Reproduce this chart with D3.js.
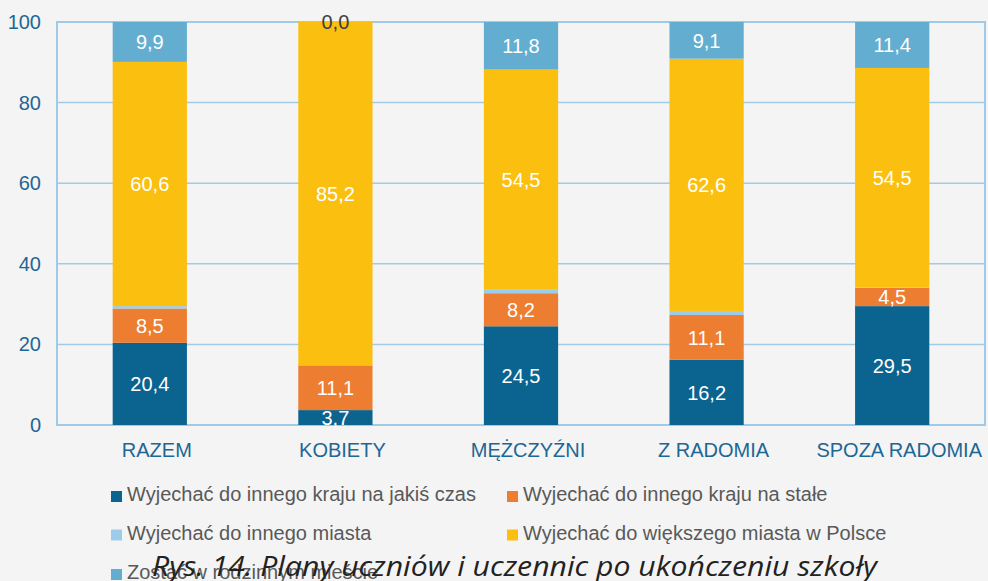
<!DOCTYPE html>
<html>
<head>
<meta charset="utf-8">
<script src="https://cdn.jsdelivr.net/npm/d3@7"></script>
<style>
  html, body { margin: 0; padding: 0; background: #f4f4f4; }
  svg { display: block; }
</style>
</head>
<body>
<div id="divChart"></div>
<script>
// dane (Rys. 14)
var categories = ['RAZEM', 'KOBIETY', 'MĘŻCZYŹNI', 'Z RADOMIA', 'SPOZA RADOMIA'];
var seriesNames = [
  'Wyjechać do innego kraju na jakiś czas',
  'Wyjechać do innego kraju na stałe',
  'Wyjechać do innego miasta',
  'Wyjechać do większego miasta w Polsce',
  'Zostać w rodzinnym mieście'
];
var krajCzas   = [20.4, 3.7, 24.5, 16.2, 29.5];
var krajStale  = [8.5, 11.1, 8.2, 11.1, 4.5];
var inneMiasto = [0.6, 0.0, 1.0, 1.0, 0.1];
var wiekszeMiasto = [60.6, 85.2, 54.5, 62.6, 54.5];
var zostac     = [9.9, 0.0, 11.8, 9.1, 11.4];
var yTicks = [0, 20, 40, 60, 80, 100];

var seriesColors = ['#0b6390', '#ed7d31', '#9dcbea', '#fbbf10', '#63aed0'];
var showLabels = [true, true, false, true, true];

(function(){
  var W = 988, H = 581;
  var margin = {top: 22, right: 3, bottom: 156, left: 57};
  var width = W - margin.left - margin.right,
      height = H - margin.top - margin.bottom;

  var svg = d3.select('#divChart').append('svg')
    .attr('width', W).attr('height', H)
    .style('font-family', 'Arial, "Liberation Sans", sans-serif');

  svg.append('rect').attr('width', W).attr('height', H).attr('fill', '#f4f4f4');

  var g = svg.append('g').attr('transform', 'translate(' + margin.left + ',' + margin.top + ')');

  var x = d3.scaleBand().domain(categories).range([0, width])
    .paddingInner(0.6).paddingOuter(0.3);
  var y = d3.scaleLinear().domain([0, 100]).range([height, 0]);

  // zestawienie tablic w rekordy dla d3.stack
  var rows = categories.map(function(c, i){
    return {cat: c, s0: krajCzas[i], s1: krajStale[i], s2: inneMiasto[i], s3: wiekszeMiasto[i], s4: zostac[i]};
  });
  var keys = ['s0', 's1', 's2', 's3', 's4'];
  var stacked = d3.stack().keys(keys)(rows);

  // siatka
  g.selectAll('line.grid').data(yTicks).enter().append('line')
    .attr('class', 'grid')
    .attr('x1', 0).attr('x2', width)
    .attr('y1', function(d){ return y(d); }).attr('y2', function(d){ return y(d); })
    .attr('stroke', '#a0cbe7').attr('stroke-width', function(d){ return d === 0 || d === 100 ? 2 : 1.5; });
  g.append('rect').attr('x', 0).attr('y', 0).attr('width', width).attr('height', height)
    .attr('fill', 'none').attr('stroke', '#a0cbe7').attr('stroke-width', 2);

  // os Y
  var yAxis = d3.axisLeft(y).tickValues(yTicks).tickSize(0).tickPadding(16);
  var ya = g.append('g').call(yAxis);
  ya.select('.domain').remove();
  ya.selectAll('text').attr('fill', '#1d6794').style('font-size', '20px')
    .style('font-family', 'Arial, "Liberation Sans", sans-serif');

  // os X
  var xAxis = d3.axisBottom(x).tickSize(0).tickPadding(18);
  var xa = g.append('g').attr('transform', 'translate(0,' + height + ')').call(xAxis);
  xa.select('.domain').remove();
  xa.selectAll('text').attr('fill', '#1d6794').style('font-size', '20px').attr('dx', 7)
    .style('font-family', 'Arial, "Liberation Sans", sans-serif');

  // slupki
  var layers = g.selectAll('g.layer').data(stacked).enter().append('g')
    .attr('class', 'layer')
    .attr('fill', function(d, i){ return seriesColors[i]; });

  layers.selectAll('rect').data(function(d){ return d; }).enter().append('rect')
    .attr('x', function(d){ return x(d.data.cat); })
    .attr('width', x.bandwidth())
    .attr('y', function(d){ return y(d[1]); })
    .attr('height', function(d){ return y(d[0]) - y(d[1]); });

  // etykiety danych
  var fmt = function(v){ return d3.format('.1f')(v).replace('.', ','); };
  stacked.forEach(function(layer, i){
    if (!showLabels[i]) return;
    g.append('g').selectAll('text').data(layer).enter().append('text')
      .attr('x', function(d){ return x(d.data.cat) + x.bandwidth() / 2; })
      .attr('y', function(d){ return (y(d[0]) + y(d[1])) / 2; })
      .attr('dy', '0.36em')
      .attr('text-anchor', 'middle')
      .style('font-size', '20px')
      .attr('fill', function(d){ return (d[1] - d[0]) === 0 ? '#404040' : '#ffffff'; })
      .text(function(d){ return fmt(d[1] - d[0]); });
  });

  // legenda
  var legendPos = [[111, 491], [507, 491], [111, 529.5], [507, 529.5], [111, 569]];
  var lg = svg.append('g');
  var items = lg.selectAll('g').data(seriesNames).enter().append('g')
    .attr('transform', function(d, i){ return 'translate(' + legendPos[i][0] + ',' + legendPos[i][1] + ')'; });
  items.append('rect').attr('width', 11).attr('height', 11)
    .attr('fill', function(d, i){ return seriesColors[i]; });
  items.append('text').attr('x', 16).attr('y', 10)
    .style('font-size', '20px').attr('fill', '#595959')
    .text(function(d){ return d; });

  // tytul (nachodzi na ostatnia pozycje legendy, jak w oryginale)
  svg.append('text')
    .attr('x', 152).attr('y', 576)
    .attr('textLength', 725).attr('lengthAdjust', 'spacingAndGlyphs')
    .style('font-family', '"Open Sans", sans-serif')
    .style('font-style', 'italic')
    .style('font-size', '27px')
    .attr('fill', '#222222')
    .text('Rys. 14. Plany uczniów i uczennic po ukończeniu szkoły');
}());
</script>
</body>
</html>
